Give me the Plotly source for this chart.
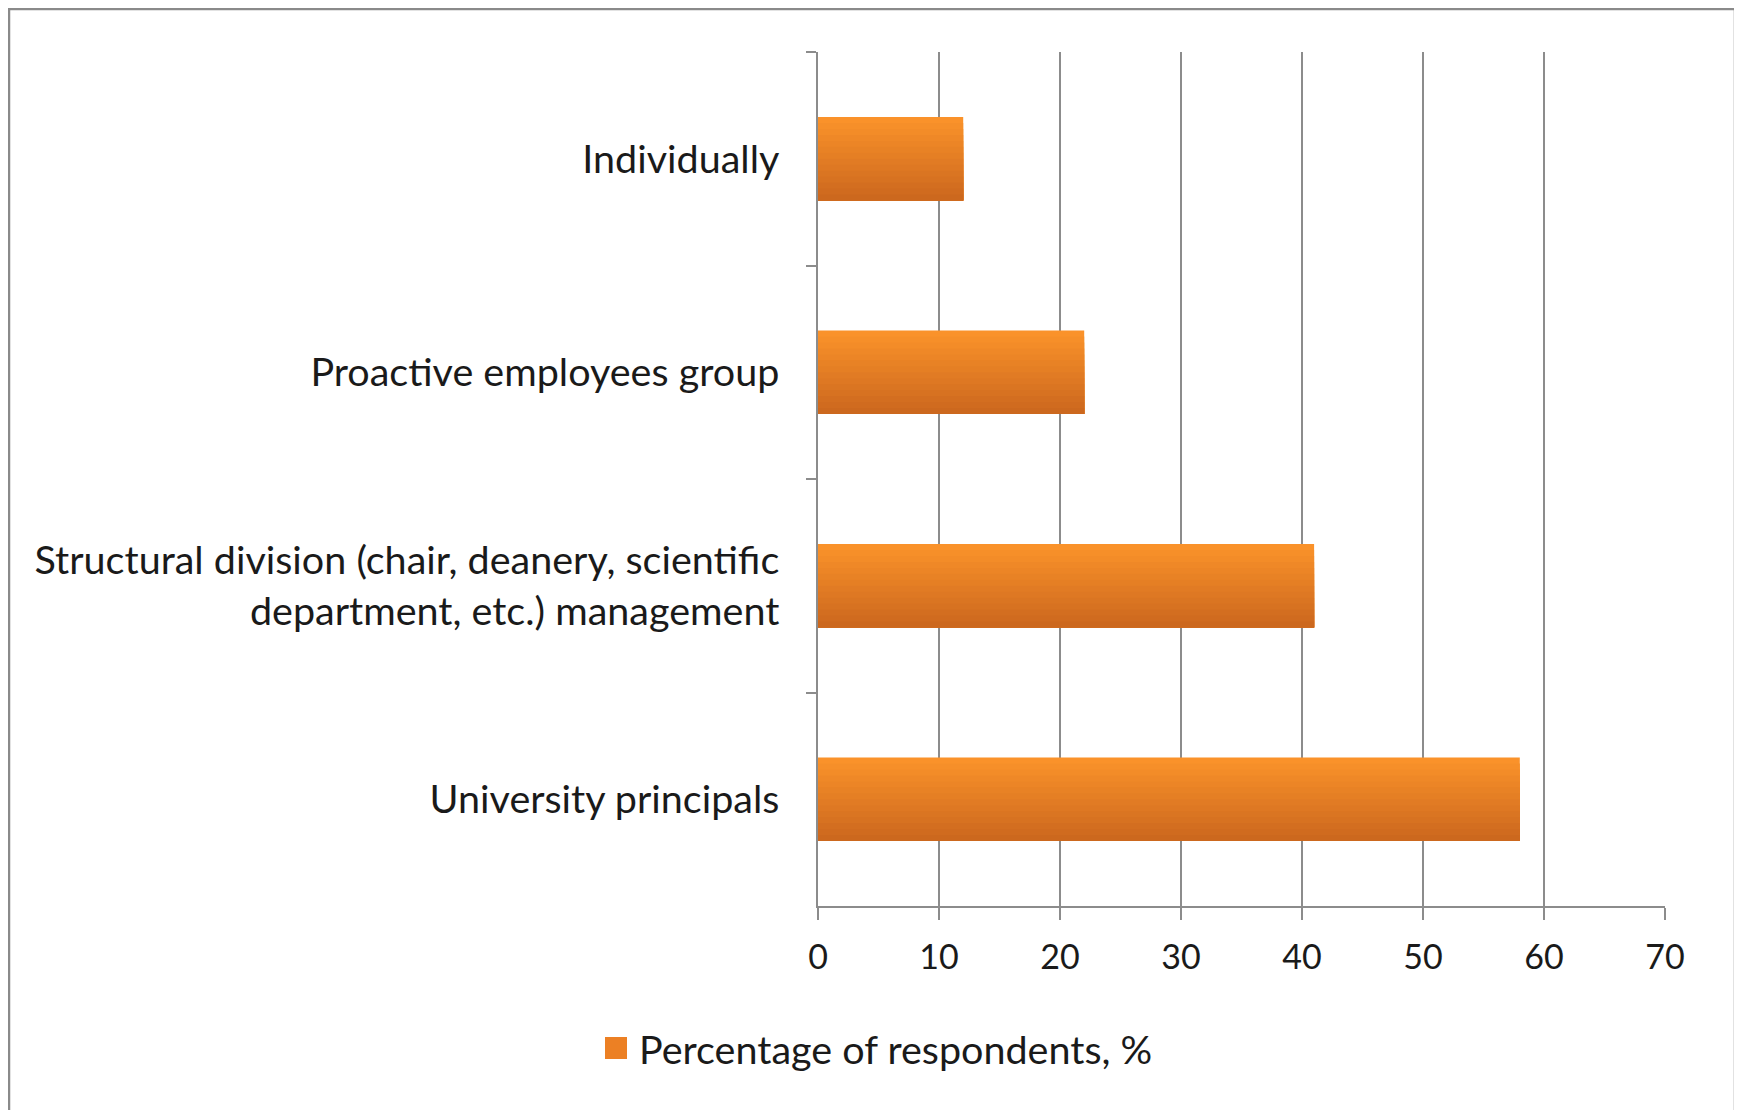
import plotly.graph_objects as go

categories = [
    "Individually",
    "Proactive employees group",
    "Structural division (chair, deanery, scientific<br>department, etc.) management",
    "University principals",
]
values = [12, 22, 41, 58]
series_name = "Percentage of respondents, %"
x_ticks = [0, 10, 20, 30, 40, 50, 60, 70]

W, H = 1742, 1110
ML, MT = 810, 44
PW, PH = 847, 854
MR, MB = W - ML - PW, H - MT - PH

FONT = "Lato"
TXT = "#1a1a1a"
GRID = "#8c8c8c"


def px(fx):
    return (fx - ML) / PW


def py(fy):
    return (MT + PH - fy) / PH


# vertical gradient for the bars, built from overlapping strips
top_rgb = (250, 146, 42)
bot_rgb = (204, 104, 30)
n = 14
bw = 0.39
step = bw / n

fig = go.Figure()
for i in range(n):
    t = i / (n - 1)
    c = tuple(int(round(a + (b - a) * t)) for a, b in zip(top_rgb, bot_rgb))
    fig.add_trace(go.Bar(
        x=values, y=categories, orientation="h",
        width=bw - i * step, offset=-bw / 2 + i * step,
        marker=dict(color="rgb(%d,%d,%d)" % c, line=dict(width=0)),
        name=series_name, showlegend=False,
    ))

fig.update_layout(
    width=W, height=H,
    margin=dict(l=ML, r=MR, t=MT, b=MB, pad=0),
    paper_bgcolor="white", plot_bgcolor="white",
    barmode="overlay",
    font=dict(family=FONT, size=34, color=TXT),
    showlegend=False,
    xaxis=dict(range=[0, 70], tickvals=x_ticks, showgrid=True, gridcolor=GRID,
               gridwidth=1.5, zeroline=False, showline=True, linecolor=GRID,
               linewidth=2, ticks="outside", ticklen=12, tickcolor=GRID,
               tickwidth=1.5, ticklabelstandoff=8,
               tickfont=dict(size=34, color=TXT)),
    yaxis=dict(type="category", categoryorder="array", categoryarray=categories,
               autorange="reversed", showgrid=False, zeroline=False,
               showline=True, linecolor=GRID, linewidth=1.5,
               ticks="outside", tickson="boundaries", ticklen=10,
               tickcolor=GRID, tickwidth=1.5, ticklabelstandoff=29,
               tickfont=dict(size=39.5, color=TXT)),
    shapes=[
        dict(type="rect", xref="paper", yref="paper",
             x0=px(1), x1=px(1727), y0=py(1120), y1=py(1),
             line=dict(color="#8a8a8a", width=2.5), layer="below"),
        # legend swatch
        dict(type="rect", xref="paper", yref="paper",
             x0=px(597), x1=px(619), y0=py(1051), y1=py(1029),
             line=dict(width=0), fillcolor="rgb(236,128,36)"),
    ],
    annotations=[dict(text=series_name, xref="paper", yref="paper",
                      x=px(629), y=py(1040), xanchor="left", yanchor="middle",
                      showarrow=False, font=dict(size=39.5, color=TXT))],
)

fig.write_html("out.html")
